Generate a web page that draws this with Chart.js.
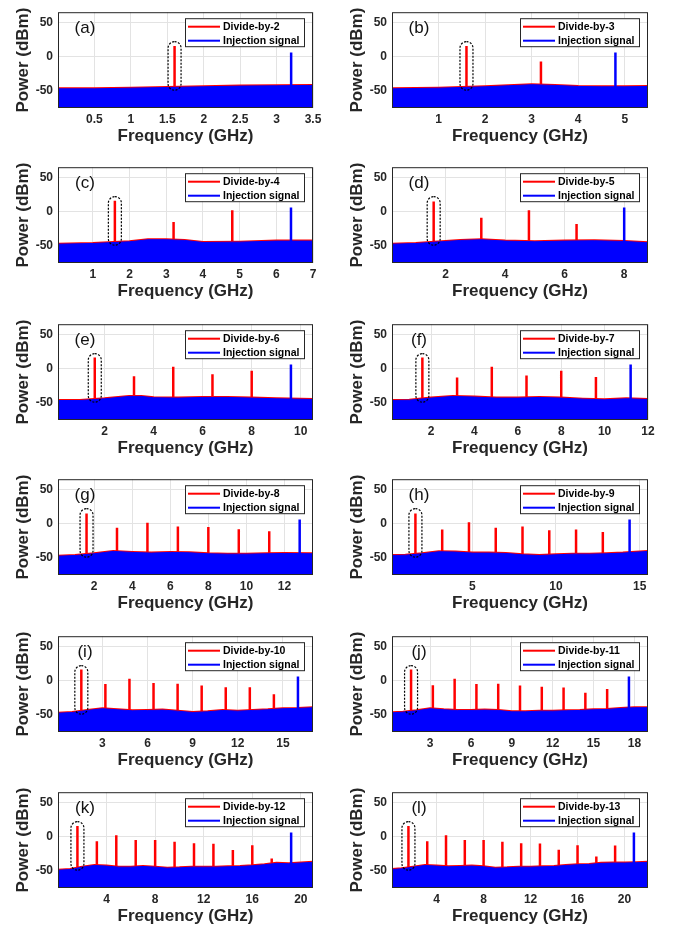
<!DOCTYPE html>
<html>
<head>
<meta charset="utf-8">
<script src="https://cdn.jsdelivr.net/npm/chart.js@4.4.1/dist/chart.umd.min.js"></script>
<style>
  body { margin: 0; background: #fff; width: 675px; height: 933px; overflow: hidden; position: relative; }
  canvas { position: absolute; }
</style>
</head>
<body>
<script>
// harmonics of the 1.6 GHz divided output (GHz)
const harmonicGHz = [1.6, 3.2, 4.8, 6.4, 8.0, 9.6, 11.2, 12.8, 14.4, 16.0, 17.6, 19.2, 20.8];

// injection signal, one per panel (a)..(l)
const injectionGHz = [3.2, 4.8, 6.4, 8.0, 9.6, 11.2, 12.8, 14.4, 16.0, 17.6, 19.2, 20.8];
const injectionDbm = [6, 6, 6, 6, 6, 6, 6, 6, 6, 6, 6, 6];

// divided-output peaks (dBm)
const dividerPeaksA = [15.5];
const dividerPeaksB = [15.5, -7];
const dividerPeaksC = [16, -15, 2];
const dividerPeaksD = [15, -9, 2, -18];
const dividerPeaksE = [16.5, -11, 3, -8, -3];
const dividerPeaksF = [16.5, -13, 3, -10, -3, -12];
const dividerPeaksG = [15, -6, 1.5, -4, -5, -8, -11];
const dividerPeaksH = [15, -8.5, 2, -6, -4, -9.5, -8.5, -12];
const dividerPeaksI = [16.5, -5, 3, -3.5, -4.5, -7, -9.5, -9.5, -20];
const dividerPeaksJ = [16.5, -6.5, 3, -5, -4.5, -7, -9, -10, -17.5, -12];
const dividerPeaksK = [15.5, -6.5, 2, -5, -5, -7.5, -9.5, -10.5, -19.5, -12.5, -32];
const dividerPeaksL = [15.5, -6.5, 2, -5, -5, -7.5, -9.5, -10, -19, -12.5, -29, -13];

// noise floor upper edge (GHz / dBm)
const noiseGHzA = [0, 0.5, 1, 1.5, 2, 2.5, 3, 3.5];
const noiseTopA = [-47, -47, -46, -45, -44, -43, -42.5, -42];
const noiseGHzB = [0, 1, 2, 2.5, 3, 3.5, 4, 4.5, 5, 5.5];
const noiseTopB = [-47, -46, -44, -42.5, -41, -42, -43.5, -44, -44, -43.5];
const noiseGHzC = [0.05, 1, 2, 2.5, 3, 3.5, 4, 5, 6, 7];
const noiseTopC = [-47.5, -46.5, -44, -41, -41, -42, -45, -44.5, -43, -43];
const noiseGHzD = [0.2, 1, 2, 2.5, 3.2, 4, 5, 6, 7, 8, 8.8];
const noiseTopD = [-47.5, -46.5, -43.5, -42, -41, -43, -44, -43, -42.5, -43.5, -45.5];
const noiseGHzE = [0.1, 1, 2, 3, 3.5, 4, 5, 6, 7, 8, 9, 10.5];
const noiseTopE = [-46.5, -46.5, -44, -40.5, -40.5, -42.5, -43, -42, -42, -43, -44, -45];
const noiseGHzF = [0.2, 1, 2, 3, 4, 5, 6, 7, 8, 9, 10, 11, 12];
const noiseTopF = [-46.5, -46, -43, -40.5, -41.5, -43, -43, -42, -43, -44.5, -45.5, -44, -45];
const noiseGHzG = [0.1, 1, 2, 3, 4, 5, 6, 7, 8, 9, 10, 11, 12, 13.5];
const noiseTopG = [-47.5, -46.5, -44, -40.5, -42, -43, -42, -42.5, -44, -44.5, -44.5, -44, -43.5, -44];
const noiseGHzH = [0.2, 1, 2, 3, 4, 5, 6, 7, 8, 9, 10, 11, 12, 13, 14, 15.5];
const noiseTopH = [-46.5, -46, -44, -41, -41.5, -43, -43, -43.5, -45.5, -46.5, -45.5, -44.5, -44.5, -44, -43, -40.5];
const noiseGHzI = [0.05, 1, 2, 3, 4, 5, 6, 7, 8, 9, 10, 11, 12, 13, 14, 15, 16, 17];
const noiseTopI = [-47.5, -46.5, -43.5, -41, -42.5, -44, -43.5, -43, -44.5, -46.5, -45.5, -43.5, -44.5, -43.5, -42.5, -41, -40.5, -39.5];
const noiseGHzJ = [0.2, 1, 2, 3, 4, 5, 6, 7, 8, 9, 10, 11, 12, 13, 14, 15, 16, 17, 18, 19];
const noiseTopJ = [-47, -46, -44, -41, -42.5, -43.5, -43.5, -43, -43.5, -45.5, -45.5, -44.5, -44.5, -44, -43.5, -42.5, -42, -40.5, -39.5, -39.5];
const noiseGHzK = [0, 1, 2, 3, 4, 5, 6, 7, 8, 9, 10, 11, 12, 13, 14, 15, 16, 17, 18, 19, 20, 21];
const noiseTopK = [-49, -48, -44.5, -42, -43, -44.5, -44.5, -43.5, -44.5, -46, -45.5, -44.5, -44.5, -44.5, -44, -43.5, -42.5, -41, -39, -39.5, -38.5, -37.5];
const noiseGHzL = [0.2, 1, 2, 3, 4, 5, 6, 7, 8, 9, 10, 11, 12, 13, 14, 15, 16, 17, 18, 19, 20, 21, 22];
const noiseTopL = [-48, -47, -44.5, -42, -43, -44, -43.5, -43, -44, -46, -45.5, -44.5, -44.5, -44, -43.5, -42, -41, -40.5, -39, -38.5, -38.5, -38, -37.5];

// x ticks per panel
const xTicksA = [0.5, 1, 1.5, 2, 2.5, 3, 3.5];
const xTicksB = [1, 2, 3, 4, 5];
const xTicksC = [1, 2, 3, 4, 5, 6, 7];
const xTicksD = [2, 4, 6, 8];
const xTicksE = [2, 4, 6, 8, 10];
const xTicksF = [2, 4, 6, 8, 10, 12];
const xTicksG = [2, 4, 6, 8, 10, 12];
const xTicksH = [5, 10, 15];
const xTicksI = [3, 6, 9, 12, 15];
const xTicksJ = [3, 6, 9, 12, 15, 18];
const xTicksK = [4, 8, 12, 16, 20];
const xTicksL = [4, 8, 12, 16, 20];
const yTicks = [-50, 0, 50];

const panelTags = ['(a)', '(b)', '(c)', '(d)', '(e)', '(f)', '(g)', '(h)', '(i)', '(j)', '(k)', '(l)'];
const xMin = [0, 0, 0.05, 0.2, 0.1, 0.2, 0.1, 0.2, 0.05, 0.2, 0, 0.2];
const xMax = [3.5, 5.5, 7, 8.8, 10.5, 12, 13.5, 15.5, 17, 19, 21, 22];

const panels = [
  [dividerPeaksA, noiseGHzA, noiseTopA, xTicksA],
  [dividerPeaksB, noiseGHzB, noiseTopB, xTicksB],
  [dividerPeaksC, noiseGHzC, noiseTopC, xTicksC],
  [dividerPeaksD, noiseGHzD, noiseTopD, xTicksD],
  [dividerPeaksE, noiseGHzE, noiseTopE, xTicksE],
  [dividerPeaksF, noiseGHzF, noiseTopF, xTicksF],
  [dividerPeaksG, noiseGHzG, noiseTopG, xTicksG],
  [dividerPeaksH, noiseGHzH, noiseTopH, xTicksH],
  [dividerPeaksI, noiseGHzI, noiseTopI, xTicksI],
  [dividerPeaksJ, noiseGHzJ, noiseTopJ, xTicksJ],
  [dividerPeaksK, noiseGHzK, noiseTopK, xTicksK],
  [dividerPeaksL, noiseGHzL, noiseTopL, xTicksL]
];

const FONT = '"Liberation Sans", Arial, Helvetica, sans-serif';
const INK = '#262626';
const RED = '#ff0000';
const BLUE = '#0000ff';
const SPIKE_BASE = -60; // spikes start under the noise band

// panel placement
const plotTops = [9, 164, 321, 476, 633, 789];
const colLeft = [0, 334];
const colRightPad = [24, 23];

// spikes as vertical segments separated by gaps
function spikes(freqs, dbm) {
  let pts = [];
  for (let i = 0; i < dbm.length; i++) {
    pts.push({x: freqs[i], y: SPIKE_BASE});
    pts.push({x: freqs[i], y: dbm[i]});
    pts.push({x: freqs[i], y: null});
  }
  return pts;
}

function roundBox(ctx, x, y, w, h, r) {
  ctx.beginPath();
  ctx.moveTo(x + r, y);
  ctx.lineTo(x + w - r, y);
  ctx.arcTo(x + w, y, x + w, y + r, r);
  ctx.lineTo(x + w, y + h - r);
  ctx.arcTo(x + w, y + h, x + w - r, y + h, r);
  ctx.lineTo(x + r, y + h);
  ctx.arcTo(x, y + h, x, y + h - r, r);
  ctx.lineTo(x, y + r);
  ctx.arcTo(x, y, x + r, y, r);
  ctx.closePath();
}

// frame, dashed marker, tag and legend box
const panelDecor = {
  id: 'panelDecor',
  afterDraw(chart, args, opts) {
    const ctx = chart.ctx;
    const a = chart.chartArea;
    const x = chart.scales.x, y = chart.scales.y;
    ctx.save();

    // dashed rounded box around the 1.6 GHz output
    const cx = x.getPixelForValue(1.6);
    const top = y.getPixelForValue(22), bot = y.getPixelForValue(-49);
    ctx.setLineDash([2, 1.5]);
    ctx.lineWidth = 1.2;
    ctx.strokeStyle = '#000';
    roundBox(ctx, cx - 6.5, top, 13, bot - top, 6.5);
    ctx.stroke();
    ctx.setLineDash([]);

    // axes box
    ctx.strokeStyle = INK;
    ctx.lineWidth = 1;
    ctx.strokeRect(a.left + 0.5, a.top + 0.5, a.right - a.left - 1, a.bottom - a.top - 1);

    // panel tag
    ctx.fillStyle = '#111';
    ctx.font = '17px ' + FONT;
    ctx.textAlign = 'center';
    ctx.textBaseline = 'middle';
    ctx.fillText(opts.tag, a.left + 27, a.top + 16);

    // legend
    const bw = 119, bh = 28;
    const bx = a.right - 9 - bw, by = a.top + 6;
    ctx.fillStyle = '#fff';
    ctx.fillRect(bx, by, bw, bh);
    ctx.strokeStyle = INK;
    ctx.strokeRect(bx + 0.5, by + 0.5, bw, bh);
    const rows = [[opts.divider, RED], ['Injection signal', BLUE]];
    ctx.font = 'bold 10.5px ' + FONT;
    ctx.textAlign = 'left';
    rows.forEach((r, i) => {
      const ly = by + 8.5 + i * 14;
      ctx.strokeStyle = r[1];
      ctx.lineWidth = 2;
      ctx.beginPath();
      ctx.moveTo(bx + 3, ly);
      ctx.lineTo(bx + 35, ly);
      ctx.stroke();
      ctx.fillStyle = '#000';
      ctx.fillText(r[0], bx + 38, ly + 0.5);
    });
    ctx.restore();
  }
};

panels.forEach((p, i) => {
  const row = Math.floor(i / 2), col = i % 2;
  const n = i + 2; // division ratio
  const canvas = document.createElement('canvas');
  canvas.width = 337;
  canvas.height = 148;
  canvas.style.left = colLeft[col] + 'px';
  canvas.style.top = (plotTops[row] - 9) + 'px';
  document.body.appendChild(canvas);

  const ticks = p[3];
  new Chart(canvas, {
    type: 'line',
    data: {
      datasets: [
        { // injection tone
          data: spikes([injectionGHz[i]], [injectionDbm[i]]),
          borderColor: BLUE, borderWidth: 2.5, fill: false, spanGaps: false
        },
        { // injection trace noise
          data: p[1].map((f, k) => ({x: f, y: p[2][k]})),
          borderColor: BLUE, backgroundColor: BLUE, borderWidth: 1, fill: 'start'
        },
        { // divided output harmonics
          data: spikes(harmonicGHz.slice(0, n - 1), p[0]),
          borderColor: RED, borderWidth: 2.5, fill: false, spanGaps: false
        },
        { // divided trace noise
          data: p[1].map((f, k) => ({x: f, y: p[2][k]})),
          borderColor: RED, backgroundColor: RED, borderWidth: 3, fill: 'start'
        }
      ]
    },
    options: {
      responsive: false,
      animation: false,
      events: [],
      layout: { padding: { top: 9, left: 0, right: colRightPad[col], bottom: 0 } },
      elements: { point: { radius: 0 }, line: { tension: 0 } },
      plugins: {
        legend: { display: false },
        tooltip: { enabled: false },
        panelDecor: { tag: panelTags[i], divider: 'Divide-by-' + n }
      },
      scales: {
        x: {
          type: 'linear',
          min: xMin[i],
          max: xMax[i],
          afterBuildTicks: (s) => { s.ticks = ticks.map(v => ({value: v})); },
          afterFit: (s) => { s.height = 40; },
          grid: { color: '#e3e3e3', drawTicks: false },
          border: { display: false },
          ticks: {
            padding: 4, maxRotation: 0, autoSkip: false,
            color: INK, font: { family: FONT, size: 12, weight: 'bold' },
            callback: (v) => String(v)
          },
          title: {
            display: true, text: 'Frequency (GHz)', color: INK,
            font: { family: FONT, size: 17, weight: 'bold' },
            padding: { top: 0, bottom: 1 }
          }
        },
        y: {
          type: 'linear',
          min: -75,
          max: 65,
          afterBuildTicks: (s) => { s.ticks = yTicks.map(v => ({value: v})); },
          afterFit: (s) => { s.width = 58; },
          grid: { color: '#e3e3e3', drawTicks: false },
          border: { display: false },
          ticks: {
            padding: 5,
            color: INK, font: { family: FONT, size: 12, weight: 'bold' },
            callback: (v) => String(v)
          },
          title: {
            display: true, text: 'Power (dBm)', color: INK,
            font: { family: FONT, size: 17, weight: 'bold' },
            padding: { top: 13, bottom: 0 }
          }
        }
      }
    },
    plugins: [panelDecor]
  });
});
</script>
</body>
</html>
